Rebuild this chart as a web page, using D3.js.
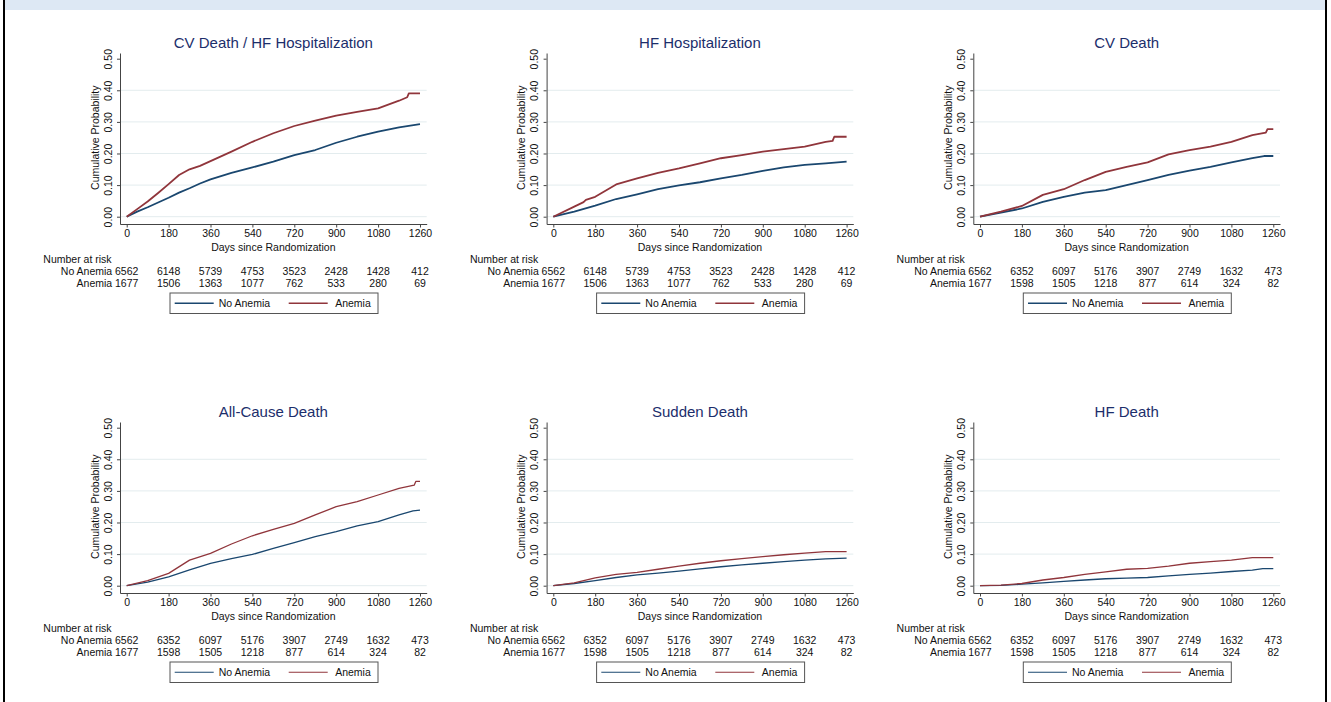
<!DOCTYPE html>
<html>
<head>
<meta charset="utf-8">
<script src="https://cdn.jsdelivr.net/npm/d3@7"></script>
<style>
  html, body { margin: 0; padding: 0; background: #fff; }
  svg { display: block; font-family: "Liberation Sans", Arial, Helvetica, sans-serif; }
</style>
</head>
<body>
<svg id="chart" width="1331" height="702"></svg>
<script>
// ---------- data ----------
const dayTicks = [0, 180, 360, 540, 720, 900, 1080, 1260];
const probTicks = [0, 0.1, 0.2, 0.3, 0.4, 0.5];
const groups = ["No Anemia", "Anemia"];
const titles = ["CV Death / HF Hospitalization", "HF Hospitalization", "CV Death",
                "All-Cause Death", "Sudden Death", "HF Death"];

const days90 = [0, 90, 180, 270, 360, 450, 540, 630, 720, 810, 900, 990, 1080, 1170, 1260];

// Panel 1: CV Death / HF Hospitalization
const cvhfDaysNo = [0, 45, 90, 135, 180, 225, 270, 315, 360, 450, 540, 630, 720, 810, 900, 990, 1080, 1170, 1260];
const cvhfNoAnemia = [0, 0.016, 0.030, 0.045, 0.060, 0.076, 0.090, 0.105, 0.118, 0.139, 0.156, 0.174, 0.195, 0.211, 0.234, 0.253, 0.269, 0.283, 0.293];
const cvhfDaysAn = [0, 45, 90, 135, 180, 225, 270, 315, 360, 450, 540, 630, 720, 810, 900, 990, 1080, 1170, 1205, 1212, 1260];
const cvhfAnemia = [0, 0.024, 0.048, 0.075, 0.103, 0.132, 0.150, 0.161, 0.176, 0.206, 0.237, 0.264, 0.287, 0.304, 0.320, 0.332, 0.343, 0.367, 0.378, 0.390, 0.390];

// Panel 2: HF Hospitalization
const hfhDaysNo = days90;
const hfhNoAnemia = [0, 0.016, 0.035, 0.056, 0.071, 0.087, 0.099, 0.109, 0.121, 0.132, 0.145, 0.156, 0.164, 0.169, 0.174];
const hfhDaysAn = [0, 90, 130, 140, 180, 270, 360, 450, 540, 630, 720, 810, 900, 990, 1080, 1170, 1200, 1207, 1260];
const hfhAnemia = [0, 0.032, 0.046, 0.053, 0.063, 0.102, 0.121, 0.139, 0.153, 0.169, 0.185, 0.195, 0.206, 0.214, 0.222, 0.237, 0.240, 0.253, 0.253];

// Panel 3: CV Death
const cvdDaysNo = [0, 90, 180, 270, 360, 450, 540, 630, 720, 810, 900, 990, 1080, 1170, 1220, 1260];
const cvdNoAnemia = [0, 0.013, 0.026, 0.047, 0.063, 0.076, 0.084, 0.100, 0.116, 0.132, 0.146, 0.158, 0.172, 0.185, 0.192, 0.192];
const cvdDaysAn = [0, 90, 180, 270, 360, 450, 540, 630, 720, 810, 900, 990, 1080, 1170, 1228, 1235, 1260];
const cvdAnemia = [0, 0.016, 0.034, 0.069, 0.087, 0.116, 0.142, 0.158, 0.172, 0.197, 0.211, 0.222, 0.237, 0.258, 0.266, 0.277, 0.277];

// Panel 4: All-Cause Death
const acdDaysNo = [0, 90, 180, 270, 360, 450, 540, 630, 720, 810, 900, 990, 1080, 1170, 1230, 1260];
const acdNoAnemia = [0, 0.011, 0.028, 0.050, 0.071, 0.086, 0.099, 0.118, 0.136, 0.155, 0.171, 0.189, 0.203, 0.224, 0.237, 0.239];
const acdDaysAn = [0, 90, 180, 270, 360, 450, 540, 630, 720, 810, 900, 990, 1080, 1170, 1235, 1242, 1260];
const acdAnemia = [0, 0.016, 0.039, 0.081, 0.102, 0.132, 0.158, 0.178, 0.197, 0.224, 0.250, 0.266, 0.287, 0.308, 0.318, 0.330, 0.330];

// Panel 5: Sudden Death
const sdDaysNo = days90;
const sdNoAnemia = [0, 0.007, 0.016, 0.026, 0.034, 0.040, 0.046, 0.053, 0.060, 0.066, 0.071, 0.076, 0.081, 0.085, 0.087];
const sdDaysAn = days90;
const sdAnemia = [0, 0.009, 0.025, 0.036, 0.042, 0.052, 0.062, 0.071, 0.079, 0.086, 0.092, 0.098, 0.103, 0.108, 0.108];

// Panel 6: HF Death
const hfdDaysNo = [0, 90, 180, 270, 360, 450, 540, 630, 720, 810, 900, 990, 1080, 1170, 1215, 1260];
const hfdNoAnemia = [0, 0.001, 0.005, 0.009, 0.014, 0.018, 0.022, 0.024, 0.026, 0.031, 0.036, 0.040, 0.045, 0.049, 0.054, 0.054];
const hfdDaysAn = days90;
const hfdAnemia = [0, 0.002, 0.007, 0.018, 0.026, 0.036, 0.044, 0.052, 0.055, 0.062, 0.071, 0.076, 0.081, 0.089, 0.089];

// Number at risk
const riskNoAnemiaA = [6562, 6148, 5739, 4753, 3523, 2428, 1428, 412];
const riskAnemiaA   = [1677, 1506, 1363, 1077, 762, 533, 280, 69];
const riskNoAnemiaB = [6562, 6352, 6097, 5176, 3907, 2749, 1632, 473];
const riskAnemiaB   = [1677, 1598, 1505, 1218, 877, 614, 324, 82];

const panels = [
  { title: titles[0], no: [cvhfDaysNo, cvhfNoAnemia], an: [cvhfDaysAn, cvhfAnemia], risk: [riskNoAnemiaA, riskAnemiaA] },
  { title: titles[1], no: [hfhDaysNo, hfhNoAnemia], an: [hfhDaysAn, hfhAnemia], risk: [riskNoAnemiaA, riskAnemiaA] },
  { title: titles[2], no: [cvdDaysNo, cvdNoAnemia], an: [cvdDaysAn, cvdAnemia], risk: [riskNoAnemiaB, riskAnemiaB] },
  { title: titles[3], no: [acdDaysNo, acdNoAnemia], an: [acdDaysAn, acdAnemia], risk: [riskNoAnemiaB, riskAnemiaB] },
  { title: titles[4], no: [sdDaysNo, sdNoAnemia], an: [sdDaysAn, sdAnemia], risk: [riskNoAnemiaB, riskAnemiaB] },
  { title: titles[5], no: [hfdDaysNo, hfdNoAnemia], an: [hfdDaysAn, hfdAnemia], risk: [riskNoAnemiaB, riskAnemiaB] }
];

// ---------- style ----------
const BLUE = "#1a476f", RED = "#90353b", NAVY = "#1c2e6b";
const GRID = "#e3ecee", AXIS = "#444", TXT = "#111";
const FS = 10.5;

const svg = d3.select("#chart");

// frame
svg.append("rect").attr("x", 5).attr("y", 0).attr("width", 1320).attr("height", 10).attr("fill", "#dde8f4");
svg.append("rect").attr("x", 3).attr("y", 0).attr("width", 2).attr("height", 702).attr("fill", "#000");
svg.append("rect").attr("x", 1325).attr("y", 0).attr("width", 2).attr("height", 702).attr("fill", "#000");

const colX0 = [126.7, 553.3, 980];
const rowY0 = [216.7, 585.7];
const rowStroke = [1.8, 1.3];

panels.forEach((p, i) => {
  const col = i % 3, row = Math.floor(i / 3);
  const x0 = colX0[col], y0 = rowY0[row];
  const x = d3.scaleLinear().domain([-28.8, 1288.8]).range([x0 - 6.7, x0 + 300]);
  const y = d3.scaleLinear().domain([-0.0231, 0.518]).range([y0 + 7.3, y0 - 163.7]);
  const g = svg.append("g");
  const axisY = y0 + 7.3, axisX = x0 - 6.7;

  // gridlines
  g.selectAll(".grid").data(probTicks.filter(v => v < 0.5)).enter().append("line")
    .attr("x1", axisX).attr("x2", x.range()[1])
    .attr("y1", d => y(d)).attr("y2", d => y(d))
    .attr("stroke", GRID).attr("stroke-width", 1);

  // y axis
  const ya = g.append("g").attr("transform", `translate(${axisX},0)`)
    .call(d3.axisLeft(y).tickValues(probTicks).tickFormat(d3.format(".2f")).tickSize(3).tickSizeOuter(0));
  ya.select(".domain").attr("stroke", AXIS);
  ya.selectAll(".tick line").attr("stroke", AXIS);
  ya.selectAll("text").attr("x", null).attr("dy", null)
    .attr("transform", "translate(-8.5,0) rotate(-90)").attr("text-anchor", "middle")
    .attr("font-size", FS).attr("font-family", null).attr("fill", TXT);

  // x axis
  const xa = g.append("g").attr("transform", `translate(0,${axisY})`)
    .call(d3.axisBottom(x).tickValues(dayTicks).tickFormat(d3.format("d")).tickSize(3.5).tickPadding(2.5).tickSizeOuter(0));
  xa.select(".domain").attr("stroke", AXIS);
  xa.selectAll(".tick line").attr("stroke", AXIS);
  xa.selectAll("text").attr("font-size", FS).attr("font-family", null).attr("fill", TXT);

  // axis titles
  g.append("text").attr("transform", `translate(${axisX - 21.5},${y(0.25)}) rotate(-90)`)
    .attr("text-anchor", "middle").attr("font-size", FS).attr("fill", TXT).text("Cumulative Probability");
  g.append("text").attr("x", x(630)).attr("y", axisY + 27)
    .attr("text-anchor", "middle").attr("font-size", FS).attr("fill", TXT).text("Days since Randomization");

  // title
  g.append("text").attr("x", x(630)).attr("y", y0 - 169)
    .attr("text-anchor", "middle").attr("font-size", 15).attr("fill", NAVY).text(p.title);

  // curves
  const line = d3.line().x(d => x(d[0])).y(d => y(d[1]));
  const series = [[p.no, BLUE], [p.an, RED]];
  series.forEach(([s, c]) => {
    const pts = s[0].map((d, k) => [d, s[1][k]]);
    g.append("path").datum(pts).attr("d", line).attr("fill", "none")
      .attr("stroke", c).attr("stroke-width", rowStroke[row]).attr("stroke-linejoin", "round");
  });

  // number at risk
  g.append("text").attr("x", x0 - 83.4).attr("y", axisY + 38.5).attr("font-size", FS).attr("fill", TXT).text("Number at risk");
  p.risk.forEach((vals, r) => {
    const yy = axisY + 50.5 + r * 12;
    g.append("text").attr("x", x0 - 14.5).attr("y", yy).attr("text-anchor", "end")
      .attr("font-size", FS).attr("fill", TXT).text(groups[r]);
    g.selectAll(null).data(vals).enter().append("text")
      .attr("x", (d, k) => x(dayTicks[k])).attr("y", yy).attr("text-anchor", "middle")
      .attr("font-size", FS).attr("fill", TXT).text(d => d);
  });

  // legend
  const ly = axisY + 69, lh = 20.5;
  g.append("rect").attr("x", x0 + 43.3).attr("y", ly).attr("width", 208).attr("height", lh)
    .attr("fill", "#fff").attr("stroke", "#555").attr("stroke-width", 1);
  const items = [[groups[0], BLUE, 48, 87, 92], [groups[1], RED, 162, 201, 208.5]];
  items.forEach(([label, c, a, b, t]) => {
    g.append("line").attr("x1", x0 + a).attr("x2", x0 + b).attr("y1", ly + lh / 2).attr("y2", ly + lh / 2)
      .attr("stroke", c).attr("stroke-width", rowStroke[row] * 0.8);
    g.append("text").attr("x", x0 + t).attr("y", ly + lh / 2 + 3.8).attr("font-size", FS).attr("fill", TXT).text(label);
  });
});
</script>
</body>
</html>
